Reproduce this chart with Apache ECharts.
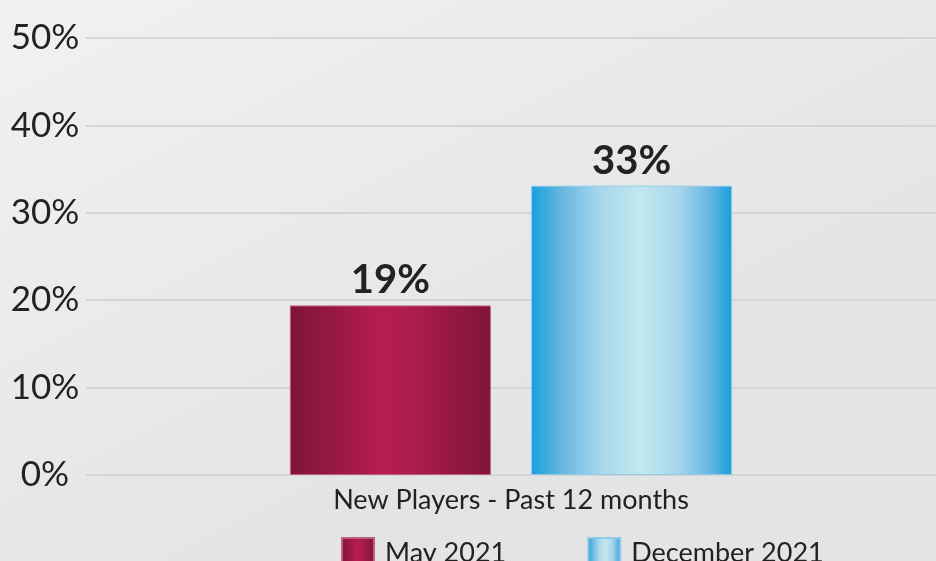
<!DOCTYPE html>
<html>
<head>
<meta charset="utf-8">
<script src="https://cdn.jsdelivr.net/npm/echarts@6/dist/echarts.min.js"></script>
<style>
html,body{margin:0;padding:0;}
#chart{width:936px;height:561px;}
</style>
</head>
<body>
<div id="chart"></div>
<script>
const categories = ["New Players - Past 12 months"];
const seriesNames = ["May 2021", "December 2021"];
const may2021 = [19.4];
const dec2021 = [33.1];
const yTicks = [0, 10, 20, 30, 40, 50];

const chart = echarts.init(document.getElementById('chart'));
const mayGrad = new echarts.graphic.LinearGradient(0, 0, 1, 0, [
  {offset: 0, color: '#7d1436'}, {offset: 0.45, color: '#b51d50'}, {offset: 0.6, color: '#ae1c4d'}, {offset: 1, color: '#7e1537'}
]);
const decGrad = new echarts.graphic.LinearGradient(0, 0, 1, 0, [
  {offset: 0, color: '#17a0dc'}, {offset: 0.15, color: '#66b6e1'}, {offset: 0.35, color: '#a9d8ec'},
  {offset: 0.55, color: '#c4e8ef'}, {offset: 0.75, color: '#a2d4ec'}, {offset: 0.9, color: '#5fb3e0'}, {offset: 1, color: '#17a0dc'}
]);
const labelCfg = {
  show: true, position: 'top', distance: 5,
  fontFamily: 'Lato', fontWeight: 'bold', fontSize: 40, color: '#222',
  formatter: p => Math.round(p.value) + '%'
};
chart.setOption({
  backgroundColor: new echarts.graphic.LinearGradient(0, 0, 0.3, 1, [
    {offset: 0, color: '#f1f1f1'}, {offset: 1, color: '#e3e4e6'}
  ]),
  animation: false,
  grid: {left: 86, width: 854, top: 38, bottom: 86, containLabel: false},
  legend: {
    data: seriesNames,
    top: 537, left: 341, padding: 0,
    itemWidth: 32, itemHeight: 30, itemGap: 81,
    icon: 'rect',
    textStyle: {fontFamily: 'Lato', fontSize: 27, color: '#222', padding: [0,0,0,6]}
  },
  xAxis: {
    type: 'category', data: categories,
    axisLine: {show: false}, axisTick: {show: false},
    axisLabel: {fontFamily: 'Lato', fontSize: 27, color: '#222', margin: 12}
  },
  yAxis: {
    type: 'value', min: 0, max: 50, interval: 10,
    axisLine: {show: false}, axisTick: {show: false},
    splitLine: {lineStyle: {color: '#d5d5d5', width: 2}},
    axisLabel: {fontFamily: 'Lato', fontSize: 35, color: '#222', align: 'center', margin: 41,
      formatter: v => yTicks.includes(v) ? v + '%' : ''}
  },
  series: [
    {name: seriesNames[0], type: 'bar', data: may2021, barWidth: 201, barGap: '20%',
     itemStyle: {color: mayGrad, borderColor: '#c0607e', borderWidth: 1}, label: labelCfg},
    {name: seriesNames[1], type: 'bar', data: dec2021, barWidth: 201,
     itemStyle: {color: decGrad, borderColor: '#8fcbe8', borderWidth: 1}, label: labelCfg}
  ]
});
</script>
</body>
</html>
